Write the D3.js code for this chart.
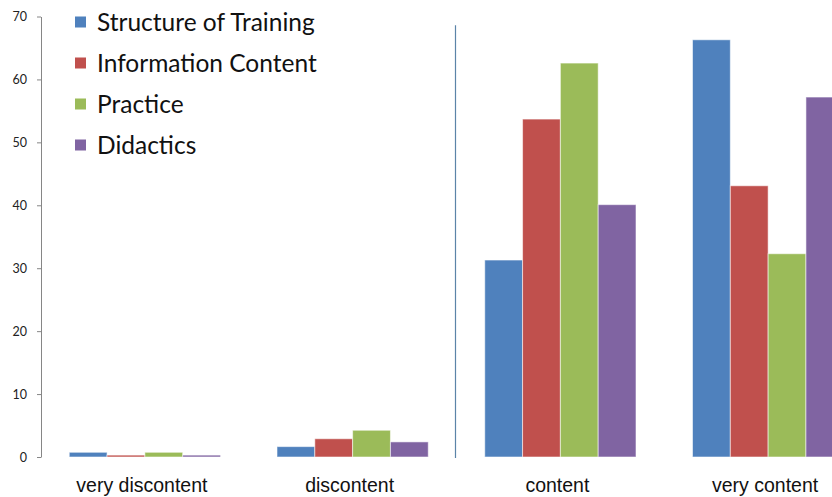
<!DOCTYPE html>
<html><head><meta charset="utf-8">
<script src="https://cdn.jsdelivr.net/npm/d3@7"></script>
<style>body{margin:0;background:#fff;overflow:hidden}svg{display:block}</style>
</head><body>
<svg id="chart" width="832" height="497"></svg>
<script>
const categories = ["very discontent", "discontent", "content", "very content"];
const seriesNames = ["Structure of Training", "Information Content", "Practice", "Didactics"];
const seriesColors = ["#4f81bd", "#c0504d", "#9bbb59", "#8064a2"];
const structureOfTraining = [0.75, 1.65, 31.3, 66.3];
const informationContent = [0.3, 2.9, 53.7, 43.1];
const practice = [0.75, 4.25, 62.6, 32.3];
const didactics = [0.3, 2.4, 40.1, 57.2];
const yTicks = [0, 10, 20, 30, 40, 50, 60, 70];
const separatorAfter = "discontent";

const seriesValues = [structureOfTraining, informationContent, practice, didactics];
const svg = d3.select("#chart");
const x0 = d3.scaleBand().domain(categories).range([41, 872]).paddingInner(0).paddingOuter(0);
const gap = x0.bandwidth() * 0.136;
const x1 = d3.scaleBand().domain(seriesNames).range([gap, x0.bandwidth() - gap]).paddingInner(0).paddingOuter(0);
const y = d3.scaleLinear().domain([0, 70]).range([457, 16.5]);

// y axis
const yAxis = d3.axisLeft(y).tickValues(yTicks).tickSize(4).tickPadding(10).tickSizeOuter(0);
const ga = svg.append("g").attr("transform", "translate(41,0)").call(yAxis);
ga.select(".domain").attr("stroke", "#868686");
ga.selectAll(".tick line").attr("stroke", "#868686");
ga.selectAll(".tick text").attr("font-family", "Lato, 'Open Sans', sans-serif").attr("font-size", 12.5).attr("fill", "#222");

// bars
categories.forEach((c, ci) => {
  const g = svg.append("g").attr("transform", `translate(${x0(c)},0)`);
  seriesNames.forEach((s, si) => {
    const v = seriesValues[si][ci];
    g.append("rect")
      .attr("x", x1(s)).attr("width", x1.bandwidth())
      .attr("y", y(v)).attr("height", y(0) - y(v))
      .attr("fill", seriesColors[si])
      .attr("stroke", "rgba(255,255,255,0.55)").attr("stroke-width", 1);
  });
});

// separator line
const sepX = x0(separatorAfter) + x0.bandwidth() - 1;
svg.append("line").attr("x1", sepX).attr("x2", sepX).attr("y1", y(68.6)).attr("y2", y(0) + 1)
  .attr("stroke", "#5b84a8").attr("stroke-width", 1.2);

// category labels
svg.append("g").selectAll("text").data(categories).join("text")
  .attr("x", d => x0(d) + x0.bandwidth() / 2 - 3)
  .attr("y", 492)
  .attr("text-anchor", "middle")
  .attr("font-family", "'Liberation Sans', Arial, sans-serif")
  .attr("font-size", 19.5)
  .attr("fill", "#111")
  .text(d => d);

// legend
const lg = svg.append("g");
seriesNames.forEach((s, i) => {
  const cy = 22 + i * 41;
  lg.append("rect").attr("x", 75).attr("y", cy - 5.5).attr("width", 11).attr("height", 11).attr("fill", seriesColors[i]);
  lg.append("text").attr("x", 97).attr("y", cy).attr("dy", "0.36em")
    .attr("font-family", "Lato, 'Open Sans', sans-serif").attr("font-size", 24.5).attr("fill", "#111").text(s);
});
</script>
</body></html>
